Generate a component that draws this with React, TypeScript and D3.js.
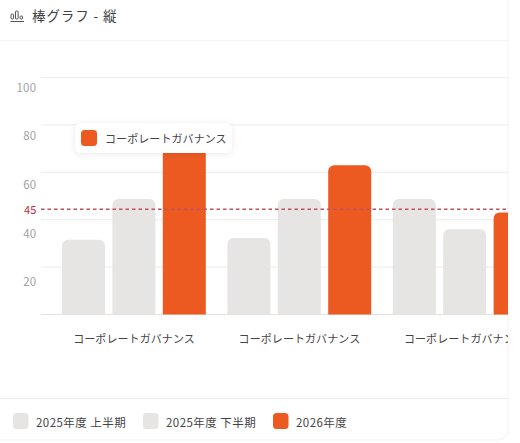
import React from "react";
import * as d3 from "d3";

const categories = ["g1", "g2", "g3"];
const categoryLabel = "コーポレートガバナンス";
const seriesNames = ["2025年度 上半期", "2025年度 下半期", "2026年度"];
const firstHalf2025 = [31.5, 32.3, 48.7];
const secondHalf2025 = [48.7, 48.7, 36];
const year2026 = [70, 63, 43];
const gridTicks = [0, 20, 40, 60, 80, 100];
const tickLabels = [100, 80, 60, 40, 20];
const refValue = 45;

const W = 520, H = 443;
const FONT = "'Noto Sans CJK JP','Noto Sans',sans-serif";
const ORANGE = "#ec5a22";
const GREY = "#e6e5e3";

export default function App() {
  const y = d3.scaleLinear().domain([0, 100]).range([314.5, 77.5]);
  const gx = d3.scaleLinear().domain([0, 1]).range([62, 227.4]);
  const barStep = 50.4, barW = 43;
  const series = [firstHalf2025, secondHalf2025, year2026];
  const colors = [GREY, GREY, ORANGE];
  const barPath = (x: number, top: number, base: number, r: number) => {
    const p = d3.path();
    p.moveTo(x, base);
    p.lineTo(x, top + r);
    p.arcTo(x, top, x + r, top, r);
    p.lineTo(x + barW - r, top);
    p.arcTo(x + barW, top, x + barW, top + r, r);
    p.lineTo(x + barW, base);
    p.closePath();
    return p.toString();
  };
  const legendX = [13, 143, 273];
  return (
    <svg width={W} height={H} viewBox={`0 0 ${W} ${H}`}
      style={{ position: "fixed", left: 0, top: 0, fontFamily: FONT, display: "block" }}>
      <defs>
        <clipPath id="card"><rect x={-20} y={-10} width={528} height={450} rx={10} /></clipPath>
        <filter id="sh" x="-20%" y="-50%" width="140%" height="200%">
          <feDropShadow dx={0} dy={1} stdDeviation={3} floodColor="#000" floodOpacity={0.09} />
        </filter>
      </defs>
      <rect width={W} height={H} fill="#fff" />
      <rect x={-20} y={-10} width={528} height={450} rx={10} fill="#fff" stroke="#f3f3f2" />
      <g clipPath="url(#card)">
        <line x1={0} x2={508} y1={40.5} y2={40.5} stroke="#f4f4f3" />
        <line x1={0} x2={508} y1={398.5} y2={398.5} stroke="#ececeb" />
        {gridTicks.map((t) => (
          <line key={t} x1={41} x2={508} y1={y(t)} y2={y(t)} stroke={t === 0 ? "#e2e2e0" : "#efefee"} strokeWidth={1.2} />
        ))}
        {categories.map((c, i) =>
          series.map((s, j) => {
            const x = gx(i) + j * barStep;
            return <path key={c + j} d={barPath(x, y(s[i]), y(0), 6)} fill={colors[j]} />;
          })
        )}
        <line x1={41} x2={508} y1={y(44.4)} y2={y(44.4)} stroke="#c0525e" strokeWidth={1.3} strokeDasharray="3.5 3" />
        {categories.map((c, i) => (
          <text key={c} x={gx(i) + 72} y={343} textAnchor="middle" fontSize={11} letterSpacing={0.08} fill="#444">{categoryLabel}</text>
        ))}
      </g>
      {tickLabels.map((t, i) => (
        <text key={t} x={36.5} y={91.5 + i * 48.7} textAnchor="end" fontSize={11.5} letterSpacing={0.3} fill="#a2a2a2">{t}</text>
      ))}
      <text x={36.5} y={214} textAnchor="end" fontSize={11} letterSpacing={0.2} fill="#c0293a">{refValue}</text>

      <g stroke="#555" fill="none" strokeWidth={1}>
        <path d="M10.5 21.5H24" />
        <rect x={11} y={14} width={2.6} height={5} rx={1} />
        <rect x={15.5} y={11} width={2.6} height={8} rx={1} />
        <rect x={20} y={16} width={2.6} height={3} rx={1} />
      </g>
      <text x={32} y={21} fontSize={13.5} fill="#3f3f3f" letterSpacing={0.9}>棒グラフ - 縦</text>

      <rect x={75} y={123} width={157} height={30} rx={6} fill="#fff" filter="url(#sh)" />
      <rect x={81} y={130} width={16} height={16} rx={3.5} fill={ORANGE} />
      <text x={105} y={143} fontSize={11} letterSpacing={0.08} fill="#444">{categoryLabel}</text>

      {seriesNames.map((n, i) => (
        <g key={n}>
          <rect x={legendX[i]} y={413} width={15.5} height={16} rx={3.5} fill={colors[i]} />
          <text x={legendX[i] + 23} y={426.5} fontSize={11.5} letterSpacing={0.45} fill="#444">{n}</text>
        </g>
      ))}
    </svg>
  );
}
